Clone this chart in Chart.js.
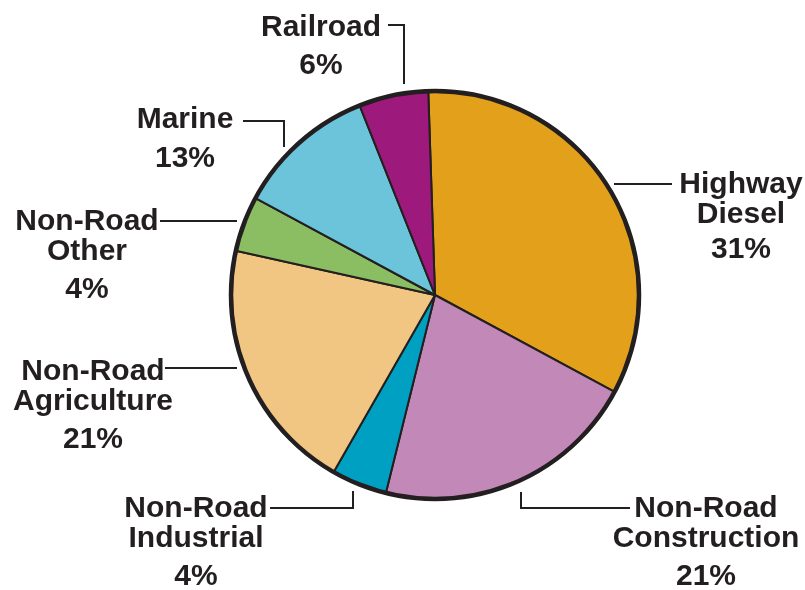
<!DOCTYPE html>
<html>
<head>
<meta charset="utf-8">
<script src="https://cdn.jsdelivr.net/npm/chart.js@4"></script>
<style>
html, body { margin: 0; padding: 0; background: #fff; }
#wrap { width: 805px; height: 590px; }
</style>
</head>
<body>
<div id="wrap"><canvas id="pieChart" width="805" height="590"></canvas></div>
<script>
// categories, clockwise from the top
const categories = ["Highway\nDiesel", "Non-Road\nConstruction", "Non-Road\nIndustrial", "Non-Road\nAgriculture", "Non-Road\nOther", "Marine", "Railroad"];
// printed percentages
const percentLabels = ["31%", "21%", "4%", "21%", "4%", "13%", "6%"];
// slice shares as drawn in the picture
const sliceShares = [33.4, 21.0, 4.4, 20.2, 4.4, 11.1, 5.5];
const sliceColors = ["#E3A01B", "#C288B8", "#00A0C2", "#F0C682", "#8BBE63", "#6CC4DA", "#9D197C"];

// label placement (first baseline, centre x) and leader polylines
const labelLayout = [
  { x: 741, y: 193, gap: 35, leader: [[672, 184], [614, 184]] },
  { x: 706, y: 517, gap: 38, leader: [[630, 508], [521, 508], [521, 492]] },
  { x: 196, y: 517, gap: 38, leader: [[270, 508], [353, 508], [353, 491]] },
  { x: 93, y: 380, gap: 38, leader: [[165, 368], [237, 368]] },
  { x: 87, y: 230, gap: 38, leader: [[160, 221], [237, 221]] },
  { x: 185, y: 128, gap: 39, leader: [[243, 121], [284, 121], [284, 147]] },
  { x: 321, y: 36, gap: 38, leader: [[388, 25], [404, 25], [404, 84]] }
];

const ink = "#231F20";

const labelPlugin = {
  id: "labels",
  afterDatasetsDraw(chart) {
    const ctx = chart.ctx;
    const arc = chart.getDatasetMeta(0).data[0];
    ctx.save();
    // heavy outer rim
    ctx.beginPath();
    ctx.arc(arc.x, arc.y, arc.outerRadius, 0, Math.PI * 2);
    ctx.lineWidth = 4.5;
    ctx.strokeStyle = ink;
    ctx.stroke();

    ctx.fillStyle = ink;
    ctx.font = "bold 30px 'Liberation Sans', Arial, sans-serif";
    ctx.textAlign = "center";
    ctx.textBaseline = "alphabetic";
    categories.forEach((cat, i) => {
      const l = labelLayout[i];
      const lines = cat.split("\n");
      lines.forEach((t, k) => ctx.fillText(t, l.x, l.y + k * 30));
      ctx.fillText(percentLabels[i], l.x, l.y + (lines.length - 1) * 30 + l.gap);

      ctx.beginPath();
      l.leader.forEach((p, k) => k ? ctx.lineTo(p[0], p[1]) : ctx.moveTo(p[0], p[1]));
      ctx.lineWidth = 2;
      ctx.stroke();
    });
    ctx.restore();
  }
};

new Chart(document.getElementById("pieChart"), {
  type: "pie",
  data: {
    labels: categories,
    datasets: [{
      data: sliceShares,
      backgroundColor: sliceColors,
      borderColor: ink,
      borderWidth: 2
    }]
  },
  options: {
    responsive: false,
    animation: false,
    rotation: -1.9,
    layout: { padding: { left: 230, right: 165, top: 90, bottom: 90 } },
    plugins: {
      legend: { display: false },
      tooltip: { enabled: false }
    }
  },
  plugins: [labelPlugin]
});
</script>
</body>
</html>
